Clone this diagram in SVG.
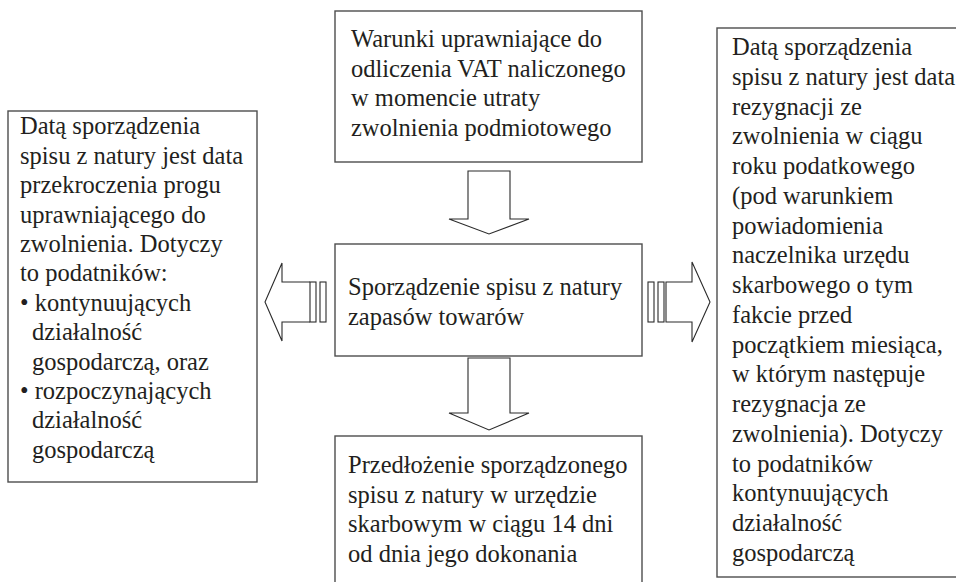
<svg xmlns="http://www.w3.org/2000/svg" width="956" height="582" viewBox="0 0 956 582">
  <style>
    .box { fill: #ffffff; stroke: #4d4d4d; stroke-width: 1.4; }
    .arrow { fill: #ffffff; stroke: #2b2b2b; stroke-width: 1.1; stroke-linejoin: miter; }
    .txt { font-family: "Liberation Serif", "Times New Roman", serif; font-size: 24.5px; fill: #231f20; }
  </style>
  <rect width="956" height="582" fill="#ffffff"/>

  <!-- top: conditions -->
  <g id="node-conditions">
    <rect class="box" x="335" y="11" width="307" height="151"/>
    <text class="txt">
      <tspan x="351" y="47">Warunki uprawniające do</tspan>
      <tspan x="351" y="76.5">odliczenia VAT naliczonego</tspan>
      <tspan x="351" y="106">w momencie utraty</tspan>
      <tspan x="351" y="135.5">zwolnienia podmiotowego</tspan>
    </text>
  </g>

  <!-- centre: stocktaking -->
  <g id="node-stocktaking">
    <rect class="box" x="335" y="244" width="307" height="112"/>
    <text class="txt">
      <tspan x="348" y="295">Sporządzenie spisu z natury</tspan>
      <tspan x="348" y="324.5">zapasów towarów</tspan>
    </text>
  </g>

  <!-- bottom: submission -->
  <g id="node-submission">
    <rect class="box" x="335" y="436" width="307" height="160"/>
    <text class="txt">
      <tspan x="348" y="473">Przedłożenie sporządzonego</tspan>
      <tspan x="348" y="502.5">spisu z natury w urzędzie</tspan>
      <tspan x="348" y="532">skarbowym w ciągu 14 dni</tspan>
      <tspan x="348" y="561.5">od dnia jego dokonania</tspan>
    </text>
  </g>

  <!-- left: threshold exceeded -->
  <g id="node-threshold">
    <rect class="box" x="8" y="111" width="249" height="371"/>
    <text class="txt">
      <tspan x="20" y="134.3">Datą sporządzenia</tspan>
      <tspan x="20" y="163.7">spisu z natury jest data</tspan>
      <tspan x="20" y="193.1">przekroczenia progu</tspan>
      <tspan x="20" y="222.5">uprawniającego do</tspan>
      <tspan x="20" y="251.9">zwolnienia. Dotyczy</tspan>
      <tspan x="20" y="281.3">to podatników:</tspan>
      <tspan x="20" y="310.7">• kontynuujących</tspan>
      <tspan x="32" y="340.1">działalność</tspan>
      <tspan x="32" y="369.5">gospodarczą, oraz</tspan>
      <tspan x="20" y="398.9">• rozpoczynających</tspan>
      <tspan x="32" y="428.3">działalność</tspan>
      <tspan x="32" y="457.7">gospodarczą</tspan>
    </text>
  </g>

  <!-- right: resignation from exemption -->
  <g id="node-resignation">
    <rect class="box" x="717" y="28" width="250" height="549"/>
    <text class="txt">
      <tspan x="732" y="55">Datą sporządzenia</tspan>
      <tspan x="732" y="84.8">spisu z natury jest data</tspan>
      <tspan x="732" y="114.5">rezygnacji ze</tspan>
      <tspan x="732" y="144.3">zwolnienia w ciągu</tspan>
      <tspan x="732" y="174">roku podatkowego</tspan>
      <tspan x="732" y="203.8">(pod warunkiem</tspan>
      <tspan x="732" y="233.6">powiadomienia</tspan>
      <tspan x="732" y="263.3">naczelnika urzędu</tspan>
      <tspan x="732" y="293.1">skarbowego o tym</tspan>
      <tspan x="732" y="322.8">fakcie przed</tspan>
      <tspan x="732" y="352.6">początkiem miesiąca,</tspan>
      <tspan x="732" y="382.4">w którym następuje</tspan>
      <tspan x="732" y="412.1">rezygnacja ze</tspan>
      <tspan x="732" y="441.9">zwolnienia). Dotyczy</tspan>
      <tspan x="732" y="471.6">to podatników</tspan>
      <tspan x="732" y="501.4">kontynuujących</tspan>
      <tspan x="732" y="531.1">działalność</tspan>
      <tspan x="732" y="560.9">gospodarczą</tspan>
    </text>
  </g>

  <!-- block arrows between the boxes -->
  <g id="connectors">
    <path class="arrow" d="M468,171 H510 V219 H529 L489,234 L449,219 H468 Z"/>
    <path class="arrow" d="M468,358 H510 V413 H529 L489,430 L449,413 H468 Z"/>
    <g id="arrow-left">
      <path class="arrow" d="M310,282 H282 V263 L265,302 L282,341 V322 H310"/>
      <rect class="arrow" x="310" y="282" width="6" height="40"/>
      <rect class="arrow" x="320" y="282" width="6" height="40"/>
    </g>
    <g id="arrow-right">
      <rect class="arrow" x="648" y="282" width="6" height="40"/>
      <rect class="arrow" x="658" y="282" width="6" height="40"/>
      <path class="arrow" d="M666,282 H692 V262 L710,302 L692,342 V322 H666 Z"/>
    </g>
  </g>
</svg>
